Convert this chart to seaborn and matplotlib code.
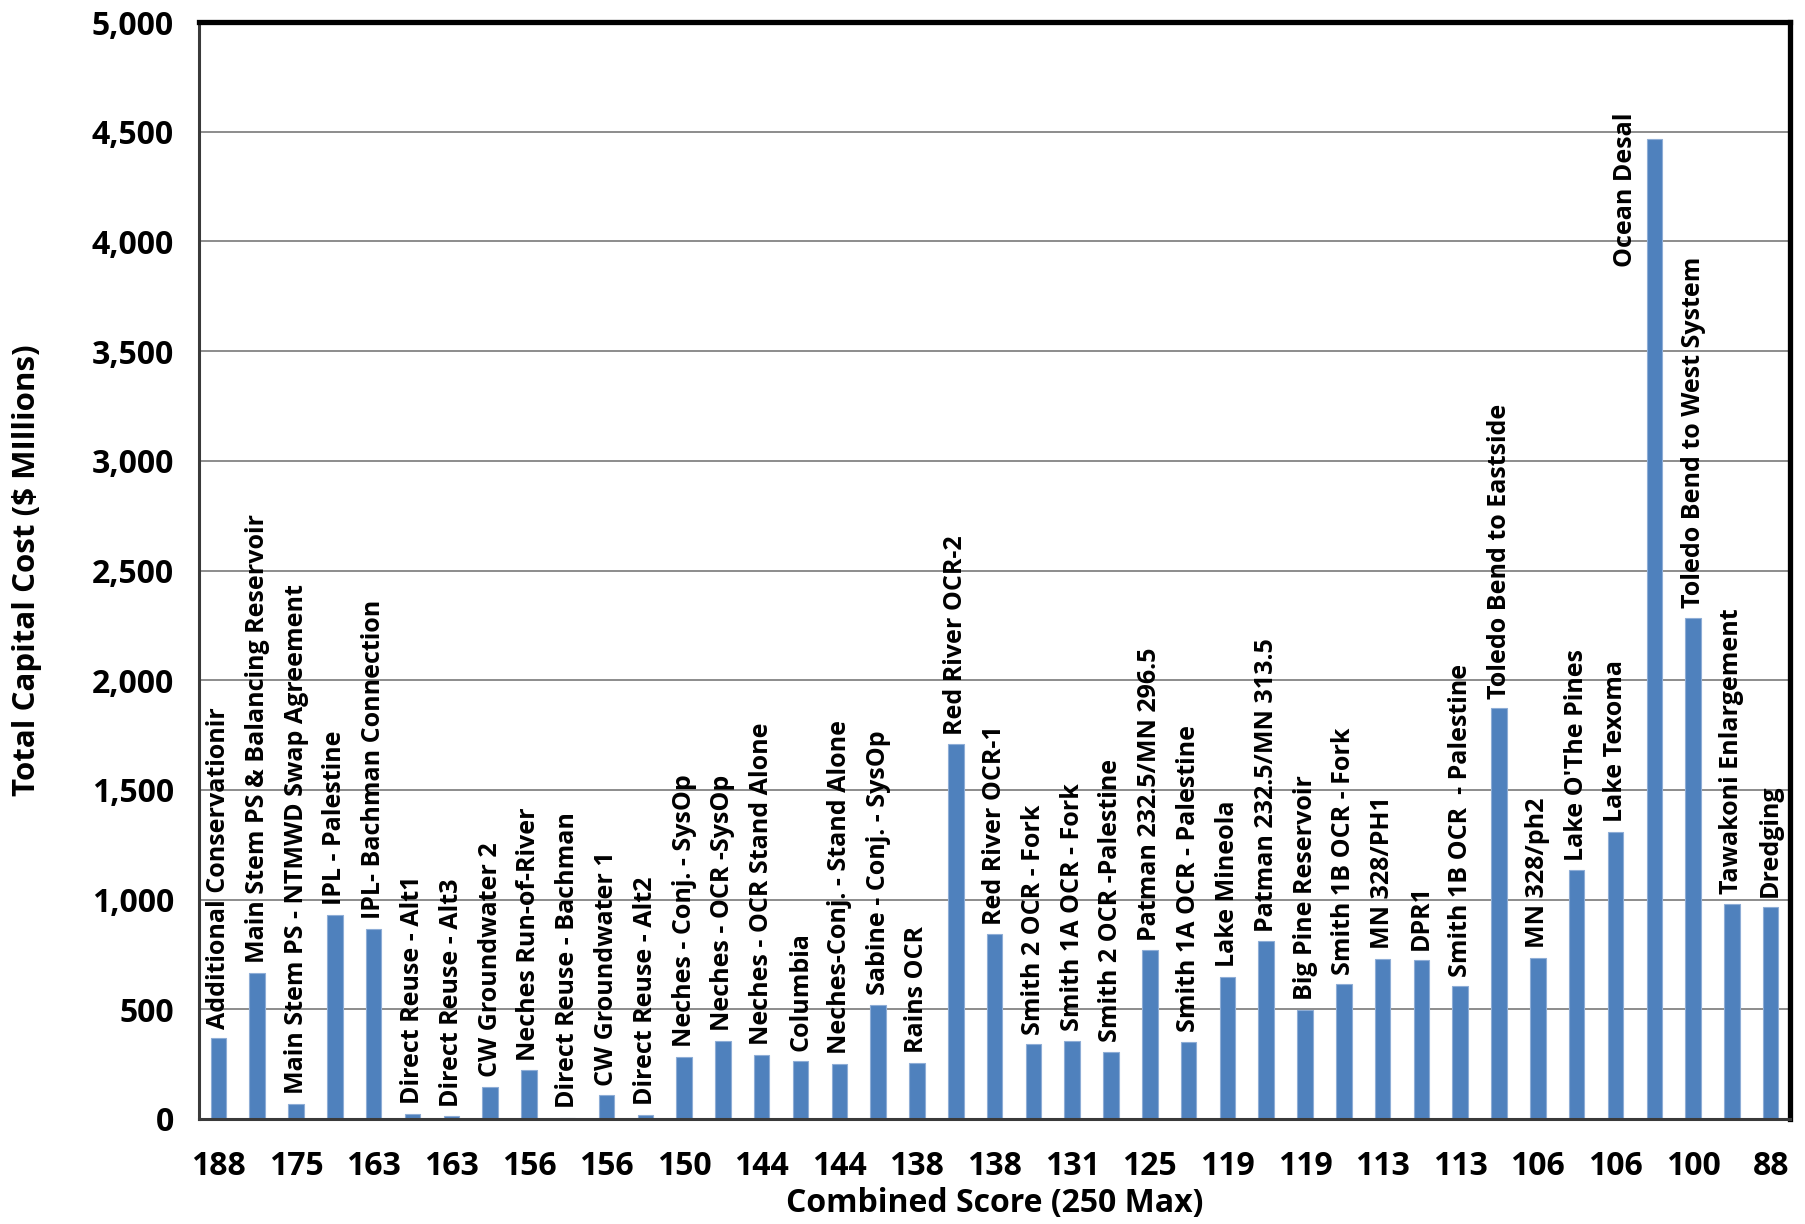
import numpy as np
import pandas as pd
import matplotlib
matplotlib.use("Agg")
import matplotlib.pyplot as plt
import seaborn as sns
from matplotlib.ticker import FuncFormatter

# Project names (bar labels), combined scores and capital cost ($ millions)
projects = [
    'Additional Conservationir', 'Main Stem PS & Balancing Reservoir',
    'Main Stem PS - NTMWD Swap Agreement', 'IPL - Palestine', 'IPL- Bachman Connection',
    'Direct Reuse - Alt1', 'Direct Reuse - Alt3', 'CW Groundwater 2', 'Neches Run-of-River',
    'Direct Reuse - Bachman', 'CW Groundwater 1', 'Direct Reuse - Alt2',
    'Neches - Conj. - SysOp', 'Neches - OCR -SysOp', 'Neches - OCR Stand Alone', 'Columbia',
    'Neches-Conj. - Stand Alone', 'Sabine - Conj. - SysOp', 'Rains OCR', 'Red River OCR-2',
    'Red River OCR-1', 'Smith 2 OCR - Fork', 'Smith 1A OCR - Fork', 'Smith 2 OCR -Palestine',
    'Patman 232.5/MN 296.5', 'Smith 1A OCR - Palestine', 'Lake Mineola', 'Patman 232.5/MN 313.5',
    'Big Pine Reservoir', 'Smith 1B OCR - Fork', 'MN 328/PH1', 'DPR1',
    'Smith 1B OCR  - Palestine', 'Toledo Bend to Eastside', 'MN 328/ph2', "Lake O'The Pines",
    'Lake Texoma', 'Ocean Desal', 'Toledo Bend to West System', 'Tawakoni Enlargement', 'Dredging'
]
scores = [188, 181, 175, 169, 163, 163, 163, 156, 156, 156, 156, 150, 150, 150, 144, 144,
          144, 138, 138, 138, 138, 131, 131, 131, 125, 125, 119, 119, 119, 113, 113, 113,
          113, 106, 106, 106, 106, 100, 100, 94, 88]
cost = [368, 667, 70, 932, 866, 22, 12, 145, 221, 6, 108, 20,
        283, 355, 292, 266, 250, 519, 257, 1707,
        841, 340, 357, 306, 768, 351, 648, 809, 498, 613, 729, 726,
        604, 1872, 735, 1133, 1308, 4468, 2284, 981, 966]

df = pd.DataFrame({'Project': projects, 'Score': scores, 'Cost': cost})

sns.set_style("white")
plt.rcParams['font.family'] = ['Open Sans', 'DejaVu Sans']
plt.rcParams['font.weight'] = 'bold'
plt.rcParams['text.color'] = 'black'
plt.rcParams['axes.labelcolor'] = 'black'

fig = plt.figure(figsize=(18.06, 12.24), dpi=100)
ax = fig.add_axes([0.1102, 0.0858, 0.8810, 0.8962])

sns.barplot(data=df, x='Project', y='Cost', color='#4F81BD', width=0.4,
            saturation=1, edgecolor='#8EADD6', linewidth=0.8, ax=ax)

ax.set_ylim(0, 5000)
ax.set_xlim(-0.5, len(projects) - 0.5)
ax.set_yticks(np.arange(0, 5001, 500))
ax.yaxis.set_major_formatter(FuncFormatter(lambda v, p: f"{int(v):,}"))
ax.yaxis.grid(True, color='#8C8C8C', linewidth=1.4)
ax.set_axisbelow(True)

# ticks on category boundaries, score labels on every other bar
ax.set_xticks(np.arange(-0.5, len(projects), 1))
ax.set_xticklabels([])
ax.set_xticks(np.arange(len(projects)), minor=True)
ax.set_xticklabels([str(s) if i % 2 == 0 else '' for i, s in enumerate(scores)],
                   minor=True, fontsize=23, fontweight='bold')
ax.tick_params(axis='x', which='major', direction='out', length=9, width=1.6, color='#7F7F7F')
ax.tick_params(axis='x', which='minor', length=0, pad=22, labelcolor='black')
ax.tick_params(axis='y', direction='out', length=7, width=1.6, color='#7F7F7F',
               labelsize=23, pad=11, labelcolor='black')
for lab in ax.get_yticklabels():
    lab.set_fontweight('bold')

for side in ['top', 'right']:
    ax.spines[side].set_linewidth(3.8)
    ax.spines[side].set_color('black')
for side in ['left', 'bottom']:
    ax.spines[side].set_linewidth(2.2)
    ax.spines[side].set_color('#3A3A3A')

# project name labels above each bar
for i, (name, v) in enumerate(zip(projects, cost)):
    if v > 4000:
        ax.annotate(name, xy=(i, v), xytext=(-21, 19), textcoords='offset points',
                    rotation=90, ha='center', va='top', fontsize=18, fontweight='bold')
    else:
        ax.annotate(name, xy=(i, v), xytext=(0, 7), textcoords='offset points',
                    rotation=90, ha='center', va='bottom', fontsize=18, fontweight='bold')

ax.set_xlabel('Combined Score (250 Max)', fontsize=23, fontweight='bold')
ax.set_ylabel('Total Capital Cost ($ MIllions)', fontsize=22.5, fontweight='bold')
ax.xaxis.set_label_coords(0.5, -0.062)
ax.yaxis.set_label_coords(-0.099, 0.5)

fig.savefig('out.png', dpi=100)
